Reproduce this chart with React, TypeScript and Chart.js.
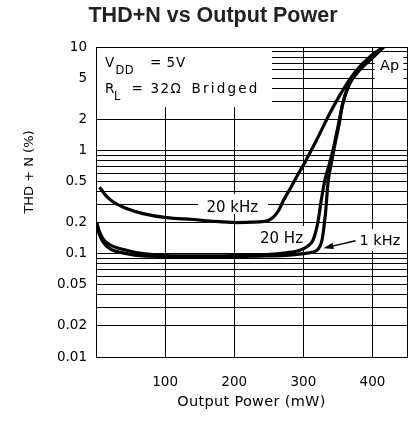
import React, { useEffect, useRef } from "react";
import { Chart, registerables } from "chart.js";

Chart.register(...registerables);

// ---- data (Output Power in mW, THD+N in %) ----
const power20kHz = [5, 15, 25, 44, 68, 102, 141, 165, 203, 244, 256, 264, 271, 283, 292, 302, 319, 338, 357, 377, 396, 416];
const thd20kHz = [0.44, 0.36, 0.316, 0.273, 0.244, 0.223, 0.214, 0.207, 0.2, 0.205, 0.224, 0.26, 0.325, 0.45, 0.58, 0.76, 1.25, 2.26, 3.81, 5.95, 8.0, 10];

const power20Hz = [1, 4, 10, 20, 44, 68, 100, 150, 200, 247, 275, 295, 306, 314, 321, 326, 331, 338, 344, 351, 357, 367, 381, 401, 416];
const thd20Hz = [0.2, 0.17, 0.14, 0.122, 0.108, 0.1, 0.096, 0.095, 0.096, 0.098, 0.102, 0.108, 0.118, 0.135, 0.2, 0.33, 0.51, 0.75, 1.08, 1.82, 2.83, 4.43, 5.95, 8.0, 10];

const power1kHz = [1, 4, 10, 20, 44, 68, 100, 150, 200, 247, 280, 300, 314, 321, 327, 332, 336, 340, 345, 352, 357, 367, 381, 401, 416];
const thd1kHz = [0.2, 0.16, 0.13, 0.112, 0.1, 0.095, 0.094, 0.093, 0.094, 0.095, 0.097, 0.1, 0.104, 0.11, 0.135, 0.244, 0.51, 0.72, 1.08, 1.82, 2.83, 4.43, 5.95, 8.0, 10];

// ---- axes ----
const xTickValues = [0, 100, 200, 300, 400, 450];
const xTickLabels = [100, 200, 300, 400];
const yGridValues = [
  0.01, 0.02, 0.03, 0.04, 0.05, 0.06, 0.07, 0.08, 0.09,
  0.1, 0.2, 0.3, 0.4, 0.5, 0.6, 0.7, 0.8, 0.9,
  1, 2, 3, 4, 5, 6, 7, 8, 9, 10,
];
const yTickLabels = [0.01, 0.02, 0.05, 0.1, 0.2, 0.5, 1, 2, 5, 10];

const toPoints = (xs: number[], ys: number[]) => xs.map((x, i) => ({ x, y: ys[i] }));

const FONT = '"DejaVu Sans", sans-serif';

const annotations = {
  id: "annotations",
  beforeDatasetsDraw(chart: any) {
    const ctx: CanvasRenderingContext2D = chart.ctx;
    ctx.save();
    ctx.fillStyle = "#fff";
    // white label backgrounds
    ctx.fillRect(97, 48, 175, 59);
    ctx.fillRect(374.5, 53.5, 29, 27);
    ctx.fillRect(198, 194, 70, 20);
    ctx.fillRect(256, 226, 53, 23);
    ctx.fillRect(357, 229, 47, 22);

    ctx.fillStyle = "#000";
    ctx.textAlign = "left";
    ctx.textBaseline = "alphabetic";
    (ctx as any).letterSpacing = "0.8px";
    ctx.font = `13.5px ${FONT}`;
    ctx.fillText("V", 105, 67.3);
    ctx.fillText("=", 150, 67.3);
    ctx.fillText("5V", 166.5, 67.3);
    ctx.fillText("R", 105, 93.3);
    ctx.fillText("=", 131.5, 93.3);
    (ctx as any).letterSpacing = "1.4px";
    ctx.fillText("32\u03A9", 150.5, 93.3);
    (ctx as any).letterSpacing = "2.2px";
    ctx.fillText("Bridged", 191.5, 93.3);
    (ctx as any).letterSpacing = "0.5px";
    ctx.font = `11.5px ${FONT}`;
    ctx.fillText("DD", 115.5, 73.8);
    ctx.fillText("L", 114, 100.3);

    (ctx as any).letterSpacing = "0px";
    ctx.font = `15px ${FONT}`;
    ctx.fillText("20 kHz", 206.5, 211.5);
    ctx.fillText("20 Hz", 260, 243.3);
    ctx.font = `14.5px ${FONT}`;
    ctx.fillText("1 kHz", 359.5, 245);
    ctx.fillText("Ap", 380, 70);

    // arrow for 1 kHz
    const tx = 323.5, ty = 248.2, sx = 355.5, sy = 240.7;
    const ang = Math.atan2(ty - sy, tx - sx);
    ctx.strokeStyle = "#000";
    ctx.lineWidth = 1.4;
    ctx.beginPath();
    ctx.moveTo(sx, sy);
    ctx.lineTo(tx - 7 * Math.cos(ang), ty - 7 * Math.sin(ang));
    ctx.stroke();
    ctx.beginPath();
    ctx.moveTo(tx, ty);
    ctx.lineTo(tx - 10 * Math.cos(ang) + 3.2 * Math.sin(ang), ty - 10 * Math.sin(ang) - 3.2 * Math.cos(ang));
    ctx.lineTo(tx - 10 * Math.cos(ang) - 3.2 * Math.sin(ang), ty - 10 * Math.sin(ang) + 3.2 * Math.cos(ang));
    ctx.closePath();
    ctx.fill();
    ctx.restore();
  },
  afterDraw(chart: any) {
    const ctx: CanvasRenderingContext2D = chart.ctx;
    ctx.save();
    ctx.fillStyle = "#222";
    ctx.textAlign = "center";
    ctx.textBaseline = "alphabetic";
    ctx.font = `bold 21.5px "Liberation Sans", Arial, sans-serif`;
    ctx.fillText("THD+N vs Output Power", 213, 21.5);

    ctx.fillStyle = "#000";
    (ctx as any).letterSpacing = "0.3px";
    ctx.font = `14.5px ${FONT}`;
    ctx.fillText("Output Power (mW)", 251.5, 406);

    ctx.font = `13px ${FONT}`;
    (ctx as any).letterSpacing = "0px";
    ctx.translate(33, 172);
    ctx.rotate(-Math.PI / 2);
    ctx.fillText("THD + N (%)", 0, 0);
    ctx.restore();
  },
};

export default function App() {
  const canvasRef = useRef<HTMLCanvasElement | null>(null);

  useEffect(() => {
    const canvas = canvasRef.current;
    if (!canvas) return;
    const lineStyle = {
      borderColor: "#000",
      borderWidth: 3.2,
      pointRadius: 0,
      fill: false,
      cubicInterpolationMode: "monotone" as const,
    };
    const chart = new Chart(canvas, {
      type: "line",
      data: {
        datasets: [
          { label: "20 kHz", data: toPoints(power20kHz, thd20kHz), ...lineStyle },
          { label: "20 Hz", data: toPoints(power20Hz, thd20Hz), ...lineStyle },
          { label: "1 kHz", data: toPoints(power1kHz, thd1kHz), ...lineStyle },
        ],
      },
      options: {
        responsive: false,
        animation: false,
        devicePixelRatio: 1,
        layout: { autoPadding: false, padding: { top: 47, right: 2, left: 0, bottom: 0 } },
        plugins: {
          legend: { display: false },
          title: { display: false },
          tooltip: { enabled: false },
        },
        scales: {
          x: {
            type: "linear",
            min: 0,
            max: 450,
            afterBuildTicks: (scale: any) => {
              scale.ticks = xTickValues.map((v) => ({ value: v }));
            },
            afterFit: (scale: any) => {
              scale.height = 81;
              scale.paddingLeft = 0;
              scale.paddingRight = 0;
            },
            grid: { color: "#000", lineWidth: 1, drawTicks: false },
            border: { color: "#000", width: 1 },
            ticks: {
              autoSkip: false,
              maxRotation: 0,
              padding: 17.5,
              color: "#000",
              font: { family: "DejaVu Sans", size: 13.5 },
              callback: (v: any) => (xTickLabels.includes(Number(v)) ? String(v) : ""),
            },
          },
          y: {
            type: "logarithmic",
            min: 0.01,
            max: 10,
            afterBuildTicks: (scale: any) => {
              scale.ticks = yGridValues.map((v) => ({ value: v }));
            },
            afterFit: (scale: any) => {
              scale.width = 96;
              scale.paddingTop = 0;
              scale.paddingBottom = 0;
            },
            grid: { color: "#000", lineWidth: 1, drawTicks: false },
            border: { color: "#000", width: 1 },
            ticks: {
              autoSkip: false,
              padding: 9,
              color: "#000",
              font: { family: "DejaVu Sans", size: 13.5 },
              callback: (v: any) => {
                const n = Number(v);
                const hit = yTickLabels.find((t) => Math.abs(t - n) / t < 1e-6);
                return hit !== undefined ? String(hit) : "";
              },
            },
          },
        },
      },
      plugins: [annotations],
    });
    return () => chart.destroy();
  }, []);

  return (
    <div style={{ position: "absolute", left: 0, top: 0, width: 409, height: 438, background: "#fff" }}>
      <canvas ref={canvasRef} width={409} height={438} style={{ display: "block" }} />
    </div>
  );
}
